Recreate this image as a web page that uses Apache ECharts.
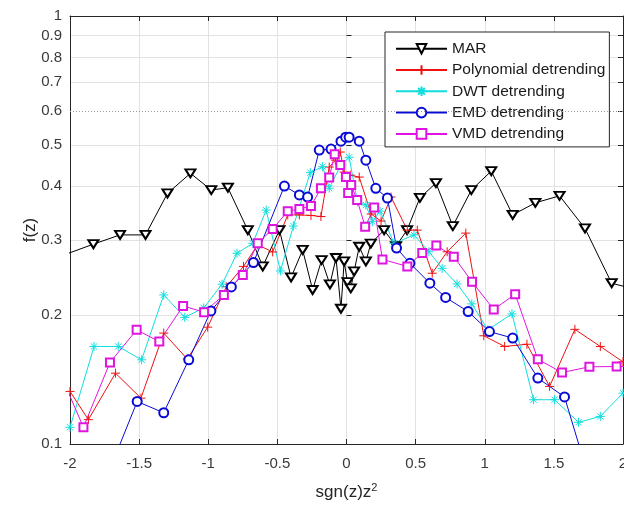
<!DOCTYPE html>
<html><head><meta charset="utf-8">
<script src="https://cdn.jsdelivr.net/npm/echarts@6/dist/echarts.min.js"></script>
<style>html,body{margin:0;padding:0;background:#fff}#c{width:624px;height:506px}</style>
</head><body><div id="c"></div><script>
// Tick values
const xTickInterval = 0.5;
const yTickValues = [0.1, 0.2, 0.3, 0.4, 0.5, 0.6, 0.7, 0.8, 0.9, 1];
const yGridValues = [0.1, 0.2, 0.3, 0.4, 0.5, 0.7, 0.8, 0.9, 1];
const yDottedValue = 0.6;
const seriesNames = ['MAR', 'Polynomial detrending', 'DWT detrending', 'EMD detrending', 'VMD detrending'];

// MAR
const marX = [-2.2, -1.831, -1.638, -1.454, -1.295, -1.129, -0.978, -0.858, -0.714, -0.606, -0.485, -0.401, -0.317, -0.245, -0.180, -0.120, -0.076, -0.040, -0.017, 0.007, 0.031, 0.055, 0.092, 0.140, 0.176, 0.272, 0.358, 0.438, 0.531, 0.647, 0.769, 0.903, 1.047, 1.202, 1.366, 1.541, 1.725, 1.918, 2.2];
const marY = [0.265, 0.293, 0.308, 0.308, 0.385, 0.429, 0.392, 0.397, 0.316, 0.26, 0.316, 0.245, 0.284, 0.229, 0.269, 0.236, 0.272, 0.207, 0.267, 0.239, 0.231, 0.253, 0.289, 0.267, 0.294, 0.316, 0.290, 0.316, 0.376, 0.407, 0.323, 0.392, 0.434, 0.343, 0.366, 0.380, 0.319, 0.2375, 0.225];

// Polynomial detrending
const polyX = [-2.0, -1.867, -1.671, -1.487, -1.322, -1.152, -1.004, -0.870, -0.745, -0.642, -0.534, -0.425, -0.341, -0.257, -0.185, -0.125, -0.081, -0.045, -0.017, 0.027, 0.092, 0.178, 0.250, 0.322, 0.440, 0.512, 0.620, 0.728, 0.863, 0.993, 1.144, 1.305, 1.469, 1.652, 1.836, 2.0];
const polyY = [0.1327, 0.114, 0.1464, 0.128, 0.1816, 0.158, 0.1875, 0.233, 0.260, 0.292, 0.281, 0.343, 0.343, 0.342, 0.340, 0.4436, 0.4605, 0.481, 0.4318, 0.4248, 0.4204, 0.3447, 0.3318, 0.3776, 0.316, 0.316, 0.2506, 0.2813, 0.311, 0.179, 0.169, 0.171, 0.1363, 0.1853, 0.169, 0.1556];

// DWT detrending
const dwtX = [-2.0, -1.826, -1.651, -1.482, -1.322, -1.170, -1.033, -0.900, -0.792, -0.678, -0.581, -0.478, -0.384, -0.262, -0.173, -0.125, -0.040, 0.019, 0.079, 0.140, 0.187, 0.243, 0.344, 0.488, 0.596, 0.692, 0.800, 0.906, 1.022, 1.197, 1.353, 1.505, 1.678, 1.836, 2.0];
const dwtY = [0.1094, 0.169, 0.169, 0.1573, 0.223, 0.1976, 0.208, 0.2363, 0.279, 0.2944, 0.352, 0.2537, 0.323, 0.4306, 0.4446, 0.396, 0.4487, 0.4677, 0.368, 0.3617, 0.3307, 0.35, 0.2944, 0.308, 0.2813, 0.2573, 0.2366, 0.2125, 0.1848, 0.2014, 0.1269, 0.1269, 0.1124, 0.116, 0.1315];

// EMD detrending
const emdX = [-1.72, -1.514, -1.322, -1.141, -0.981, -0.833, -0.673, -0.449, -0.341, -0.281, -0.197, -0.112, -0.040, -0.006, 0.019, 0.092, 0.140, 0.212, 0.296, 0.362, 0.459, 0.603, 0.717, 0.880, 1.034, 1.202, 1.384, 1.577, 1.78];
const emdY = [0.086, 0.1257, 0.1183, 0.1573, 0.2046, 0.2328, 0.2655, 0.4006, 0.3818, 0.3776, 0.486, 0.4887, 0.510, 0.521, 0.521, 0.510, 0.4605, 0.3956, 0.3756, 0.287, 0.2644, 0.2375, 0.22, 0.2039, 0.1831, 0.1768, 0.1426, 0.1288, 0.078];

// VMD detrending
const vmdX = [-2.05, -1.903, -1.711, -1.518, -1.354, -1.182, -1.030, -0.887, -0.750, -0.642, -0.534, -0.425, -0.341, -0.257, -0.185, -0.125, -0.085, -0.045, -0.004, 0.012, 0.034, 0.077, 0.135, 0.200, 0.260, 0.440, 0.548, 0.650, 0.776, 0.908, 1.065, 1.220, 1.384, 1.559, 1.757, 1.954, 2.15];
const vmdY = [0.141, 0.1094, 0.155, 0.1848, 0.1735, 0.2102, 0.2032, 0.223, 0.2483, 0.2944, 0.3178, 0.35, 0.354, 0.36, 0.3956, 0.4195, 0.4756, 0.4487, 0.4204, 0.3858, 0.4027, 0.3715, 0.3219, 0.3569, 0.27, 0.26, 0.2795, 0.291, 0.274, 0.2393, 0.2063, 0.2239, 0.1577, 0.1469, 0.1515, 0.1517, 0.1517];

const zip = (xs, ys) => xs.map((x, i) => [x, ys[i]]);
const FONT = 'Liberation Sans, Arial, sans-serif';
const AX = '#262626';
const PLUS = 'path://M5,0 L5,10 M0,5 L10,5';
const STAR = 'path://M5,0 L5,10 M0,5 L10,5 M1.5,1.5 L8.5,8.5 M8.5,1.5 L1.5,8.5';

function mk(name, xs, ys, color, symbol, size, extra) {
  return Object.assign({
    name, type: 'line', data: zip(xs, ys), xAxisIndex: 0, yAxisIndex: 0,
    symbol, symbolSize: size, showAllSymbol: true,
    lineStyle: { color, width: 1 },
    itemStyle: { color, borderColor: color, borderWidth: 1 },
    emphasis: { disabled: true }, clip: true
  }, extra || {});
}

const chart = echarts.init(document.getElementById('c'), null, { renderer: 'canvas' });
chart.setOption({
  animation: false,
  backgroundColor: '#fff',
  textStyle: { fontFamily: FONT },
  grid: { left: 70, top: 16, width: 553, height: 428, outerBoundsMode: 'none', containLabel: false },
  legend: {
    data: seriesNames, orient: 'vertical', left: 385, top: 32,
    padding: [8.7, 4, 5, 10], itemWidth: 51, itemHeight: 12, itemGap: 5.3,
    backgroundColor: '#fff', borderColor: AX, borderWidth: 1,
    textStyle: { fontFamily: FONT, fontSize: 15.5, lineHeight: 15, color: '#1a1a1a' },
    selectedMode: false
  },
  xAxis: [{
    type: 'value', min: -2, max: 2, interval: xTickInterval, position: 'bottom',
    name: 'sgn(z)z{sup|2}', nameLocation: 'middle', nameGap: 38, nameMoveOverlap: false,
    nameTextStyle: { fontFamily: FONT, fontSize: 17, color: '#262626',
      rich: { sup: { fontSize: 11, verticalAlign: 'top', padding: [0, 0, 10, 0], fontFamily: FONT, color: '#262626' } } },
    axisLine: { show: true, onZero: false, lineStyle: { color: AX, width: 1 } },
    axisTick: { show: true, inside: true, length: 5, lineStyle: { color: AX } },
    axisLabel: { fontFamily: FONT, fontSize: 15, color: '#3a3a3a', margin: 12 },
    splitLine: { show: true, lineStyle: { color: '#e2e2e2', width: 1 } }
  }, {
    type: 'value', min: -2, max: 2, interval: xTickInterval, position: 'top',
    axisLine: { show: true, onZero: false, lineStyle: { color: AX, width: 1 } },
    axisTick: { show: true, inside: true, length: 5, lineStyle: { color: AX } },
    axisLabel: { show: false }, splitLine: { show: false }
  }],
  yAxis: [{
    type: 'log', logBase: 10, min: 0.1, max: 1, position: 'left',
    name: 'f(z)', nameLocation: 'middle', nameGap: 31, nameRotate: 90, nameMoveOverlap: false,
    nameTextStyle: { fontFamily: FONT, fontSize: 17, color: '#262626' },
    axisLine: { show: true, onZero: false, lineStyle: { color: AX, width: 1 } },
    axisTick: { show: false, customValues: yGridValues },
    axisLabel: { customValues: yTickValues, fontFamily: FONT, fontSize: 15, color: '#3a3a3a', margin: 8,
      formatter: v => String(parseFloat((+v).toFixed(2))) },
    splitLine: { show: true, lineStyle: { color: '#e2e2e2', width: 1 } }
  }, {
    type: 'log', logBase: 10, min: 0.1, max: 1, position: 'right',
    axisLine: { show: true, onZero: false, lineStyle: { color: AX, width: 1 } },
    axisTick: { show: true, inside: true, length: 5, customValues: yTickValues, lineStyle: { color: AX } },
    axisLabel: { show: false }, splitLine: { show: false }
  }, {
    type: 'log', logBase: 10, min: 0.1, max: 1, position: 'left',
    axisLine: { show: false },
    axisTick: { show: true, inside: true, length: 5, customValues: yTickValues, lineStyle: { color: AX } },
    axisLabel: { show: false }, splitLine: { show: false }
  }],
  series: [
    mk('MAR', marX, marY, '#000000', 'emptyTriangle', [10, 8], {
      symbolRotate: 180,
      markLine: { silent: true, symbol: 'none', label: { show: false },
        lineStyle: { type: [1, 2], color: '#9a9a9a', width: 1 }, data: [{ yAxis: yDottedValue }] }
    }),
    mk('Polynomial detrending', polyX, polyY, '#ee1111', PLUS, 9),
    mk('DWT detrending', dwtX, dwtY, '#12dede', STAR, 9),
    mk('EMD detrending', emdX, emdY, '#0a0ad6', 'emptyCircle', 9),
    mk('VMD detrending', vmdX, vmdY, '#e014e0', 'emptyRect', 8)
  ]
});
</script></body></html>
